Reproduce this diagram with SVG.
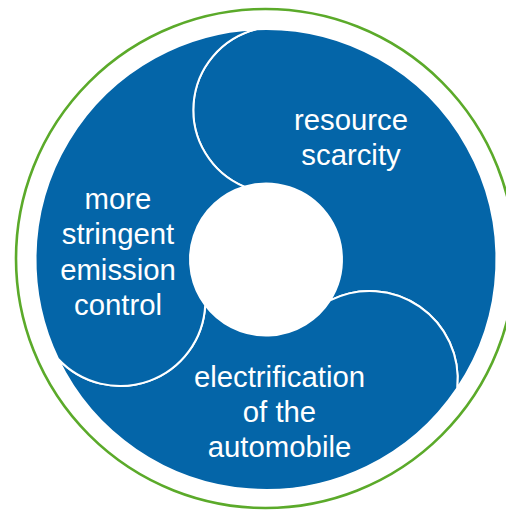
<svg xmlns="http://www.w3.org/2000/svg" width="506" height="511" viewBox="0 0 506 511">
  <style>
    .seg { fill: #0465A8; stroke: #FFFFFF; stroke-width: 2; stroke-linejoin: round; }
    .lbl { font-family: "Liberation Sans", Arial, sans-serif; font-size: 29.33px; fill: #FFFFFF; text-anchor: middle; }
    .ring { fill: none; stroke: #5BAA2A; stroke-width: 2.6; }
  </style>
  <rect x="0" y="0" width="506" height="511" fill="#FFFFFF"/>
  <g id="outer-ring">
    <circle class="ring" cx="265.5" cy="258.5" r="249.5"/>
  </g>
  <g id="node-resource-scarcity">
    <path class="seg" d="M 256.27 29.2 A 230.5 230.5 0 0 1 457.2 388.2 A 88 88 0 0 0 330.0 300.45 A 76 76 0 0 0 244.15 186.7 A 83.3 83.3 0 0 1 256.27 29.2 Z"/>
    <text class="lbl" x="351" y="130">resource</text>
    <text class="lbl" x="351" y="165">scarcity</text>
  </g>
  <g id="node-electrification">
    <path class="seg" d="M 457.2 388.2 A 230.5 230.5 0 0 1 57.98 358.8 A 85 85 0 0 0 205.2 305.1 A 76 76 0 0 0 330.0 300.45 A 88 88 0 0 1 457.2 388.2 Z"/>
    <text class="lbl" x="279.5" y="387">electrification</text>
    <text class="lbl" x="279.5" y="422">of the</text>
    <text class="lbl" x="279.5" y="457">automobile</text>
  </g>
  <g id="node-emission-control">
    <path class="seg" d="M 57.98 358.8 A 230.5 230.5 0 0 1 256.27 29.2 A 83.3 83.3 0 0 0 244.15 186.7 A 76 76 0 0 0 205.2 305.1 A 85 85 0 0 1 57.98 358.8 Z"/>
    <text class="lbl" x="118" y="208.5">more</text>
    <text class="lbl" x="118" y="244">stringent</text>
    <text class="lbl" x="118" y="279.5">emission</text>
    <text class="lbl" x="118" y="315">control</text>
  </g>
  <g id="connectors"/>
</svg>
